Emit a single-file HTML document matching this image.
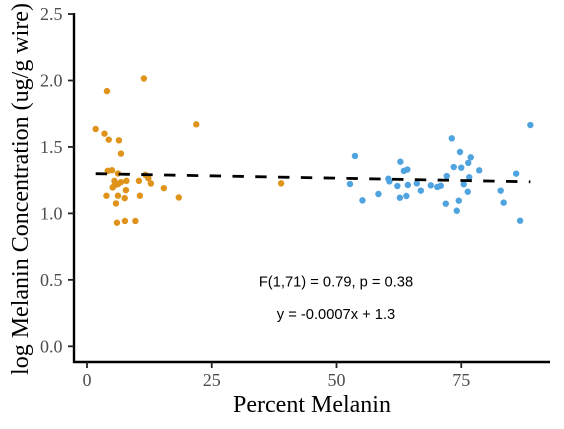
<!DOCTYPE html>
<html lang="en">
<head>
<meta charset="utf-8">
<title>Melanin scatter plot</title>
<style>
html,body{margin:0;padding:0;background:#fff;width:564px;height:429px;overflow:hidden}
svg{display:block}
text{font-family:"Liberation Serif",serif}
.tick-label{font-size:18px;fill:#4d4d4d}
.axis-title{font-size:24px;fill:#000}
.note{font-family:"Liberation Sans",sans-serif;font-size:14.7px;fill:#000;text-anchor:middle}
</style>
</head>
<body>
<svg id="chart" width="564" height="429" viewBox="0 0 564 429" xmlns="http://www.w3.org/2000/svg">
  <rect x="0" y="0" width="564" height="429" fill="#fff"/>
  <g id="marks"></g>
  <g id="axes"></g>
  <text class="axis-title" x="312" y="412" text-anchor="middle">Percent Melanin</text>
  <text class="axis-title" transform="translate(28,189) rotate(-90)" text-anchor="middle">log Melanin Concentration (ug/g wire)</text>
  <text class="note" x="336" y="286.5">F(1,71) = 0.79, p = 0.38</text>
  <text class="note" x="336" y="319">y = -0.0007x + 1.3</text>
</svg>
<script>
const xTicks = [0, 25, 50, 75];
const yTicks = [0, 0.5, 1, 1.5, 2, 2.5];
const yTickLabels = ['0.0', '0.5', '1.0', '1.5', '2.0', '2.5'];
const orangeX = [1.74,4.0,11.4,21.9,3.5,4.35,6.4,6.8,4.15,5.0,6.2,11.7,12.3,12.8,10.4,7.9,5.5,6.8,6.2,5.5,5.15,7.8,15.4,3.9,6.2,10.6,7.55,18.4,5.8,38.9,6.0,7.6,9.7];
const orangeY = [1.635,1.92,2.015,1.67,1.60,1.555,1.55,1.45,1.32,1.325,1.30,1.29,1.265,1.225,1.245,1.245,1.245,1.235,1.22,1.21,1.195,1.175,1.19,1.133,1.133,1.133,1.115,1.12,1.075,1.226,0.93,0.943,0.943];
const blueX = [88.85,73.1,74.75,76.9,76.4,53.7,62.8,64.2,63.5,73.5,75,78.6,86,72.1,76.6,60.4,60.6,52.7,66.1,64.3,62.2,68.9,70.2,70.9,75.5,66.9,76.3,82.9,58.4,55.2,64,62.7,74.5,71.9,83.5,74.1,86.8];
const blueY = [1.665,1.565,1.462,1.422,1.38,1.432,1.389,1.33,1.32,1.349,1.344,1.324,1.299,1.281,1.272,1.261,1.241,1.221,1.226,1.214,1.206,1.211,1.199,1.208,1.219,1.171,1.163,1.171,1.146,1.098,1.131,1.118,1.096,1.073,1.081,1.02,0.945];
const fitX = [1.74, 88.85];
const fitSlope = -0.0007;
const fitIntercept = 1.3;

const NS = 'http://www.w3.org/2000/svg';
const scaleX = v => 87 + v * 4.99;
const scaleY = v => 346.3 - v * 132.9;
const marks = document.getElementById('marks');
const axes = document.getElementById('axes');

function make(tag, attrs, parent) {
  const el = document.createElementNS(NS, tag);
  Object.keys(attrs).forEach(k => el.setAttribute(k, attrs[k]));
  parent.appendChild(el);
  return el;
}

orangeX.forEach((x, i) => {
  const c = make('circle', {cx: scaleX(x), cy: scaleY(orangeY[i]), r: 3.2, fill: '#e0931b'}, marks);
  
  
});
blueX.forEach((x, i) => {
  const c = make('circle', {cx: scaleX(x), cy: scaleY(blueY[i]), r: 3.2, fill: '#4fa3de'}, marks);
  
  
});

const fit = make('line', {
  x1: scaleX(fitX[0]), y1: scaleY(fitIntercept + fitSlope * fitX[0]),
  x2: scaleX(fitX[1]), y2: scaleY(fitIntercept + fitSlope * fitX[1]),
  stroke: '#000', 'stroke-width': 2.8, 'stroke-dasharray': '11.4 11.4'
}, marks);



const yAxis = make('line', {x1: 74, y1: 13, x2: 74, y2: 363, stroke: '#000', 'stroke-width': 2.4}, axes);


const xAxis = make('line', {x1: 73, y1: 362, x2: 550, y2: 362, stroke: '#000', 'stroke-width': 2.4}, axes);



yTicks.forEach((v, i) => {
  const y = scaleY(v);
  const t = make('line', {x1: 68, y1: y, x2: 74, y2: y, stroke: '#222', 'stroke-width': 1.8}, axes);
  
  
  const l = make('text', {x: 62.5, y: y + 6, 'text-anchor': 'end', class: 'tick-label'}, axes);
  
  
  l.textContent = yTickLabels[i];
});
xTicks.forEach(v => {
  const x = scaleX(v);
  const t = make('line', {x1: x, y1: 362, x2: x, y2: 368, stroke: '#222', 'stroke-width': 1.8}, axes);
  
  
  const l = make('text', {x: x, y: 386, 'text-anchor': 'middle', class: 'tick-label'}, axes);
  
  
  l.textContent = String(v);
});
</script>
</body>
</html>
